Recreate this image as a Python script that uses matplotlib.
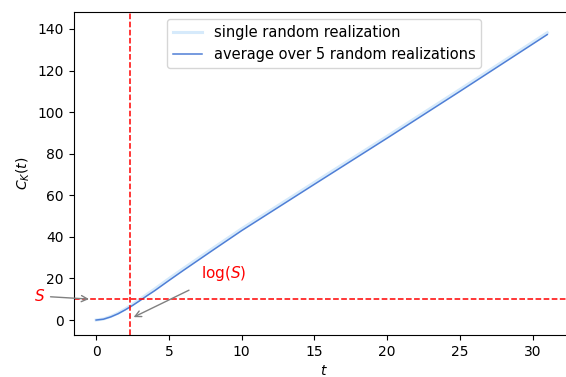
import matplotlib
matplotlib.use("Agg")
import matplotlib.pyplot as plt
import numpy as np

# data
t_vals = [0, 0.5, 1, 1.5, 2, 2.5, 3, 3.5, 4, 5, 6, 7, 8, 10, 15, 20, 25, 31]
avg_vals = [0, 0.4, 1.5, 3.0, 4.9, 7.0, 9.3, 11.7, 14.0, 19.0, 23.9, 28.7, 33.5, 43.0, 65.3, 87.5, 110.0, 137.3]
single_vals = [0, 0.5, 1.7, 3.3, 5.3, 7.5, 9.9, 12.4, 14.8, 19.9, 24.8, 29.6, 34.4, 43.9, 66.2, 88.4, 110.9, 138.2]
S_value = 10
logS_value = np.log(S_value)

fig = plt.figure(figsize=(5.66, 3.77), dpi=100)
ax = fig.add_axes([0.130, 0.1114, 0.885, 0.8576])

ax.plot(t_vals, single_vals, color='#d6eafb', lw=2.2, label='single random realization')
ax.plot(t_vals, avg_vals, color='#4f7fd6', lw=1.1, label='average over 5 random realizations')

ax.axhline(S_value, color='red', ls='--', lw=1.1)
ax.axvline(logS_value, color='red', ls='--', lw=1.1)

ax.set_xlim(-1.55, 32.87)
ax.set_ylim(-7.2, 148.3)
ax.set_xticks([0, 5, 10, 15, 20, 25, 30])
ax.set_yticks([0, 20, 40, 60, 80, 100, 120, 140])
ax.spines['right'].set_visible(False)

ax.annotate('$S$', xy=(-0.3, S_value), xytext=(-3.9, 11.5), color='red', fontsize=11,
            ha='center', va='center', annotation_clip=False,
            arrowprops=dict(arrowstyle='->', color='gray', lw=1))
ax.annotate(r'$\log(S)$', xy=(logS_value + 0.1, 0.8), xytext=(8.8, 22.6), color='red', fontsize=11,
            ha='center', va='center',
            arrowprops=dict(arrowstyle='->', color='gray', lw=1, shrinkA=8))

ax.set_xlabel('$t$')
ax.set_ylabel('$C_K(t)$')
ax.legend(loc='upper center', fontsize=10.5)

fig.savefig('out.png', dpi=100)
